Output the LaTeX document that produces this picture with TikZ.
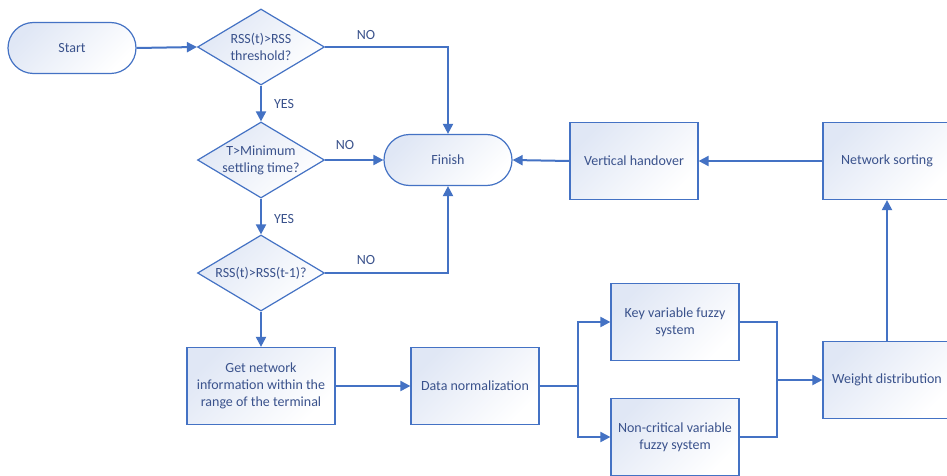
\documentclass[tikz,border=0pt]{standalone}
\usepackage{fontspec}
\setmainfont{Carlito}
\usetikzlibrary{shapes.geometric,arrows.meta,calc}
\definecolor{lineblue}{RGB}{68,114,196}
\definecolor{txtblue}{RGB}{58,82,140}
\definecolor{shadeblue}{RGB}{224,231,245}
\tikzset{
  base/.style={draw=lineblue, line width=1.2pt, text=txtblue, font=\fontsize{14}{17}\selectfont, align=center,
    top color=shadeblue, bottom color=white, shading angle=45, inner sep=2pt},
  procbox/.style={base, rectangle, minimum width=128pt, minimum height=77pt},
  term/.style={base, rectangle, rounded corners=25.5pt, minimum width=128pt, minimum height=51pt},
  dia/.style={base, diamond, minimum width=127pt, minimum height=76pt, inner sep=0pt},
  lbl/.style={text=txtblue, font=\fontsize{14}{17}\selectfont, inner sep=0pt},
  conn/.style={draw=lineblue, line width=2pt},
  arr/.style={conn, -{Triangle[length=10pt,width=10pt]}},
}
\begin{document}
\begin{tikzpicture}[x=1pt,y=-1pt]
\useasboundingbox (0,0) rectangle (947,476);
\fill[white] (0,0) rectangle (947,476);

\node[term] (start) at (72,48) {Start};
\node[dia, label={[lbl, align=center]center:{RSS(t)>RSS\\threshold?}}] (d1) at (261,47) {};
\node[dia, label={[lbl, align=center]center:{T>Minimum\\settling time?}}] (d2) at (261,160) {};
\node[dia, label={[lbl]center:{RSS(t)>RSS(t-1)?}}] (d3) at (261,273) {};
\node[term] (fin) at (448,160) {Finish};
\node[procbox] (vh) at (634,161) {Vertical handover};
\node[procbox] (sort) at (887,161) {Network sorting};
\node[procbox, minimum width=148pt] (get) at (261,386) {Get network\\information within the\\range of the terminal};
\node[procbox] (norm) at (475,386) {Data normalization};
\node[procbox] (key) at (675,322) {Key variable fuzzy\\system};
\node[procbox] (non) at (675,437) {Non-critical variable\\fuzzy system};
\node[procbox] (wd) at (887,380) {Weight distribution};

\node[lbl] (no1) at (366,35) {NO};
\node[lbl] (no2) at (345,145) {NO};
\node[lbl] (no3) at (366,260) {NO};
\node[lbl] (yes1) at (284,104) {YES};
\node[lbl] (yes2) at (284,219) {YES};

\coordinate (split) at (578,386);
\coordinate (merge) at (777,380);

\draw[arr] (start.east) -- (d1.west);
\draw[arr] (d1.east) -| (fin.north);
\draw[arr] (d1.south) -- (d2.north);
\draw[arr] (d2.east) -- (fin.west);
\draw[arr] (d2.south) -- (d3.north);
\draw[arr] (d3.east) -| (fin.south);
\draw[arr] (d3.south) -- (get.north);
\draw[arr] (get.east) -- (norm.west);
\draw[conn] (norm.east) -- (split);
\draw[arr] (split) |- (key.west);
\draw[arr] (split) |- (non.west);
\draw[conn] (key.east) -| (merge);
\draw[conn] (non.east) -| (merge);
\draw[arr] (merge) -- (wd.west);
\draw[arr] (wd.north) -- (sort.south);
\draw[arr] (sort.west) -- (vh.east);
\draw[arr] (vh.west) -- (fin.east);
\end{tikzpicture}
\end{document}
